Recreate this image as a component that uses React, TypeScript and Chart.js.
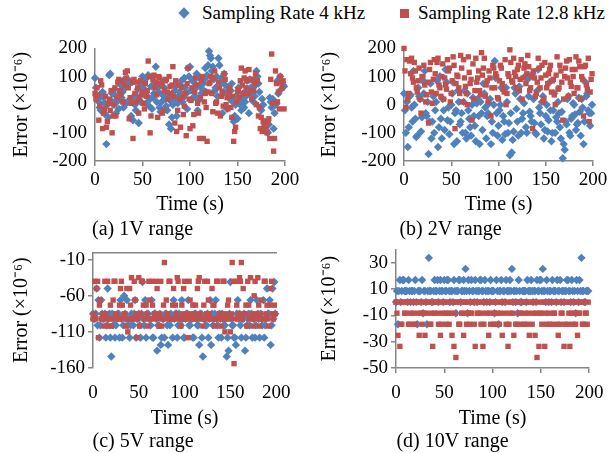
import React, { useEffect, useRef } from "react";
import { Chart, registerables } from "chart.js";

Chart.register(...registerables);

// ---------- data ----------
const TIME_EVEN_S = [
  0, 2, 4, 6, 8, 10, 12, 14, 16, 18,
  20, 22, 24, 26, 28, 30, 32, 34, 36, 38,
  40, 42, 44, 46, 48, 50, 52, 54, 56, 58,
  60, 62, 64, 66, 68, 70, 72, 74, 76, 78,
  80, 82, 84, 86, 88, 90, 92, 94, 96, 98,
  100, 102, 104, 106, 108, 110, 112, 114, 116, 118,
  120, 122, 124, 126, 128, 130, 132, 134, 136, 138,
  140, 142, 144, 146, 148, 150, 152, 154, 156, 158,
  160, 162, 164, 166, 168, 170, 172, 174, 176, 178,
  180, 182, 184, 186, 188, 190, 192, 194, 196, 198,
];
const TIME_ODD_S = [
  1, 3, 5, 7, 9, 11, 13, 15, 17, 19,
  21, 23, 25, 27, 29, 31, 33, 35, 37, 39,
  41, 43, 45, 47, 49, 51, 53, 55, 57, 59,
  61, 63, 65, 67, 69, 71, 73, 75, 77, 79,
  81, 83, 85, 87, 89, 91, 93, 95, 97, 99,
  101, 103, 105, 107, 109, 111, 113, 115, 117, 119,
  121, 123, 125, 127, 129, 131, 133, 135, 137, 139,
  141, 143, 145, 147, 149, 151, 153, 155, 157, 159,
  161, 163, 165, 167, 169, 171, 173, 175, 177, 179,
  181, 183, 185, 187, 189, 191, 193, 195, 197, 199,
];

const X_TICKS = [0, 50, 100, 150, 200];
const Y_TICKS_1V = [-200, -100, 0, 100, 200];
const Y_TICKS_2V = [-200, -100, 0, 100, 200];
const Y_TICKS_5V = [-160, -110, -60, -10];
const Y_TICKS_10V = [-50, -30, -10, 10, 30];

const SERIES_4K = "Sampling Rate 4 kHz";
const SERIES_12K = "Sampling Rate 12.8 kHz";

// (a) 1V range
const ERR_1V_4K_EVEN = [
  95, 30, 10, -20, 45, 5, -140, -45, 110, 40,
  0, -30, 15, 80, 25, -10, 60, 90, 85, -40,
  -55, 0, 30, -65, 10, 100, 55, 5, 105, 20,
  -15, 40, 135, 60, -10, 10, 85, 20, -20, -70,
  -85, 0, 50, -40, 30, 70, 10, 95, 40, 130,
  135, 20, 80, 60, -20, 95, 40, 75, 130, 105,
  190, 165, 135, 50, 100, 165, 80, -30, 110, 40,
  60, 20, 75, -60, 0, -50, 15, -20, 40, 10,
  85, -30, 60, 85, 30, 120, 75, -10, 20, -85,
  -90, -100, 25, -10, -85, 0, 85, 90, 55, 70,
];
const ERR_1V_4K_ODD = [
  60, 20, -10, 40, 25, -35, 0, 105, 15, 50,
  35, 10, -15, 70, 45, 90, 5, 75, 20, 80,
  30, -20, 55, 15, 70, 40, 90, 30, -5, 65,
  25, 80, 10, 45, -25, 35, 60, -5, 30, 15,
  -45, 20, 65, 5, 45, 85, 25, 60, -15, 100,
  50, 85, 30, 110, 15, 70, 55, 90, 45, 140,
  175, 120, 90, 60, 30, 140, 95, 45, 70, -15,
  25, 50, 10, -40, 30, 60, 0, 20, -10, 30,
  50, 90, 40, 10, 70, 100, 45, -20, 0, -60,
  -95, -70, 10, 20, -30, 5, 40, 100, 80, 65,
];
const ERR_1V_12K_EVEN = [
  40, 60, -55, 85, -85, -15, -80, 5, -20, -100,
  0, -40, 80, 50, 85, 10, 115, 120, -50, 5,
  -120, 40, 80, -30, 85, 45, -15, 30, 155, -100,
  100, 105, 80, -45, 95, 70, -20, 85, 45, 100,
  40, 135, -65, -95, 70, -80, 30, -5, -110, 130,
  -85, 60, -35, 95, 5, -120, 85, -120, 40, -130,
  75, 100, -25, 120, 10, 80, -40, 45, 110, 0,
  -15, 60, -45, -130, -80, 45, 25, 130, 40, 120,
  85, 125, 50, 90, 75, 0, -40, -85, -95, -70,
  -75, -60, -120, 180, -165, 120, 10, -15, 80, 85,
];
const ERR_1V_12K_ODD = [
  20, 35, -5, 70, -30, 30, -60, 20, 50, -40,
  60, 25, 90, 35, 10, 70, 95, 60, 25, 80,
  90, 10, 60, 20, 35, 5, 75, 50, 100, -40,
  90, 60, 35, 100, 75, -30, 50, 90, 20, 65,
  70, 30, 85, -20, 20, 60, -35, 40, 75, 20,
  15, -75, 45, 70, -30, 25, 100, 10, -10, 45,
  80, 40, 95, 5, -30, 60, 30, -5, 90, 25,
  45, -10, 30, -95, 10, 55, 85, 70, 95, 60,
  40, 90, 20, 50, 110, 85, -10, -45, -60, -80,
  -100, -50, 90, 5, -120, 75, 45, 100, 60, -15,
];

// (b) 2V range
const ERR_2V_4K_EVEN = [
  40, -100, -150, 30, -10, 120, -50, -110, 30, -95,
  85, 120, -40, -175, 75, -60, -100, 10, -150, 100,
  -120, -20, 125, -55, -105, 0, 80, -30, -130, 10,
  -60, -100, 50, -120, -20, -80, 0, -40, -130, 20,
  -140, -30, 75, -10, -40, 5, -140, -100, 155, -30,
  -75, 0, -125, -60, 60, -100, -180, -170, -95, 40,
  -60, 65, -100, -30, 100, -100, 30, -40, 110, -65,
  -105, 125, -30, 10, -120, -40, -95, 80, -130, -20,
  -100, -60, -30, -120, -190, -160, -70, 30, -110, -40,
  0, -90, -65, -25, 20, -140, 80, 40, -30, -30,
];
const ERR_2V_4K_ODD = [
  -20, 10, -80, 35, -60, 0, -115, 60, 20, -45,
  40, -30, 10, -60, -120, 30, -20, 85, -80, -50,
  20, -90, 80, -10, -60, 40, -140, -20, 50, -70,
  -30, 10, -100, 40, -50, -110, 25, -75, 5, -40,
  10, -90, 40, -120, -30, 20, -60, 0, 95, -110,
  -20, 60, -40, -105, 10, -65, -30, -125, 60, -15,
  -110, 20, -50, 5, -80, 90, -25, -60, 20, -100,
  50, -10, -70, 30, -90, 0, -55, -20, -100, 40,
  -45, 10, -80, -25, -140, -60, 20, -100, -50, 5,
  -35, -70, 25, -110, -10, -60, 30, -20, -75, 0,
];
const ERR_2V_12K_EVEN = [
  200, -10, 20, 155, 165, 80, 120, 45, 130, -30,
  100, 70, 35, -65, 150, 5, 160, 40, 165, 60,
  100, 20, 70, 160, 130, 40, 170, -85, 105, 60,
  175, 10, 95, 40, 170, 75, -55, 20, 165, 95,
  50, 185, 130, 30, 85, 120, -40, 140, 60, 100,
  20, 140, 75, 45, 0, 110, 195, 85, 165, 100,
  125, 50, 160, 95, 145, 110, 135, 60, -85, 95,
  40, 165, 60, 140, 20, 105, 75, 125, 45, 90,
  0, 170, 60, 120, -55, 100, 155, 30, 80, 125,
  40, 170, 60, 135, 100, -40, 140, 55, -60, 90,
];
const ERR_2V_12K_ODD = [
  120, 160, 40, 110, 95, 150, 60, 85, 20, 100,
  140, 10, 80, 125, 45, 90, 110, 150, 70, 30,
  145, 95, 55, 120, 10, 85, 140, 75, 100, 40,
  130, 160, 65, 0, 115, 90, 145, 50, 80, 120,
  35, 105, 165, 70, 10, 95, 60, 130, 110, 25,
  85, 130, 55, 160, 40, 100, 150, 80, 115, 60,
  140, 90, 20, 130, 75, 175, 50, 100, 120, 30,
  80, 130, 95, 10, 150, 60, 110, 140, 85, 35,
  105, 55, 140, 80, 20, 130, 95, 160, 65, 100,
  125, 60, 155, 20, 90, 135, 70, 165, 45, 110,
];

// (c) 5V range
const ERR_5V_4K_EVEN = [
  -85, -92, -50, -66, -101, -85, -92, -118, -50, -85,
  -144, -101, -118, -92, -85, -66, -118, -60, -92, -101,
  -118, -85, -101, -66, -92, -85, -118, -41, -101, -118,
  -85, -92, -66, -118, -85, -136, -101, -128, -92, -118,
  -85, -128, -101, -92, -66, -85, -118, -85, -101, -92,
  -118, -85, -66, -101, -92, -118, -85, -101, -128, -85,
  -144, -92, -101, -118, -66, -85, -92, -66, -101, -85,
  -118, -92, -101, -144, -136, -41, -101, -118, -128, -66,
  -85, -118, -92, -136, -101, -85, -66, -118, -92, -101,
  -85, -118, -92, -66, -101, -50, -85, -128, -50, -41,
];
const ERR_5V_4K_ODD = [
  -92, -85, -101, -118, -66, -92, -85, -101, -92, -118,
  -85, -92, -101, -85, -118, -92, -101, -85, -66, -92,
  -101, -92, -85, -118, -92, -101, -85, -92, -66, -85,
  -92, -101, -118, -85, -92, -101, -85, -118, -92, -85,
  -101, -92, -85, -118, -92, -85, -101, -92, -66, -118,
  -92, -85, -101, -92, -118, -85, -92, -101, -85, -118,
  -92, -101, -85, -92, -128, -101, -85, -92, -118, -92,
  -85, -101, -92, -118, -85, -92, -101, -118, -85, -92,
  -101, -92, -85, -118, -92, -101, -85, -92, -118, -66,
  -92, -85, -101, -118, -92, -85, -66, -101, -92, -85,
];
const ERR_5V_12K_EVEN = [
  -92, -40, -50, -118, -66, -92, -102, -85, -40, -92,
  -102, -66, -40, -85, -92, -50, -73, -85, -102, -110,
  -50, -35, -92, -66, -118, -35, -85, -40, -92, -73,
  -102, -66, -40, -92, -85, -50, -102, -40, -92, -14,
  -66, -85, -40, -92, -50, -73, -35, -92, -102, -85,
  -40, -92, -118, -66, -85, -92, -73, -50, -35, -92,
  -102, -40, -85, -66, -92, -50, -73, -92, -40, -85,
  -102, -40, -110, -92, -66, -110, -14, -154, -40, -92,
  -35, -14, -50, -85, -102, -73, -35, -92, -60, -85,
  -35, -102, -66, -92, -40, -73, -102, -50, -85, -73,
];
const ERR_5V_12K_ODD = [
  -85, -92, -40, -73, -92, -85, -40, -92, -102, -73,
  -92, -40, -85, -92, -73, -40, -92, -85, -50, -92,
  -73, -92, -40, -85, -92, -102, -40, -73, -92, -85,
  -40, -92, -73, -85, -40, -92, -85, -102, -73, -92,
  -85, -40, -92, -73, -92, -85, -40, -92, -73, -50,
  -92, -85, -40, -92, -73, -85, -92, -40, -85, -92,
  -73, -92, -40, -85, -92, -73, -102, -40, -92, -85,
  -92, -40, -85, -73, -92, -85, -40, -92, -73, -85,
  -40, -92, -85, -73, -40, -92, -85, -102, -40, -92,
  -73, -85, -92, -40, -85, -92, -73, -40, -92, -85,
];

// (d) 10V range
const ERR_10V_4K_EVEN = [
  0, -16.8, 16.8, 8.4, 16.8, 8.4, 0, 8.4, 8.4, 0,
  16.8, -16.8, 8.4, 0, -8.4, 8.4, -16.8, 33.6, 8.4, 0,
  16.8, 8.4, 0, 16.8, 8.4, 16.8, 8.4, 16.8, 0, 8.4,
  16.8, -8.4, 8.4, 16.8, 8.4, 16.8, 25.2, -8.4, 8.4, 16.8,
  8.4, 16.8, 0, 8.4, 16.8, 8.4, 16.8, 0, 8.4, 16.8,
  8.4, -8.4, 16.8, -16.8, 8.4, 0, 8.4, 16.8, 8.4, 16.8,
  25.2, 8.4, 0, -8.4, 8.4, 0, 8.4, 8.4, 16.8, 8.4,
  16.8, 0, 8.4, 16.8, 8.4, 16.8, 25.2, 8.4, 16.8, 0,
  8.4, 16.8, 8.4, 0, 8.4, 16.8, 8.4, 0, 8.4, 16.8,
  8.4, 16.8, 0, -8.4, 8.4, 16.8, 33.6, 8.4, 0, 8.4,
];
const ERR_10V_4K_ODD = [
  8.4, 8.4, 0, 16.8, 8.4, 8.4, 16.8, 0, 8.4, 8.4,
  0, 8.4, 8.4, 16.8, 8.4, 0, 8.4, 8.4, 0, 8.4,
  8.4, 16.8, 8.4, 8.4, 0, 8.4, 16.8, 8.4, 8.4, 0,
  8.4, 8.4, 16.8, 0, 8.4, 8.4, 8.4, 16.8, 0, 8.4,
  0, 8.4, 8.4, 16.8, 8.4, 0, 8.4, 8.4, 0, 8.4,
  8.4, 0, 8.4, 8.4, 16.8, 8.4, 0, 8.4, 8.4, 8.4,
  0, 8.4, 8.4, 16.8, 0, 8.4, 8.4, 0, 8.4, 8.4,
  8.4, 8.4, 0, 8.4, 16.8, 8.4, 8.4, 0, 8.4, 8.4,
  0, 8.4, 8.4, 16.8, 8.4, 0, 8.4, 8.4, 16.8, 8.4,
  0, 8.4, 8.4, 16.8, 0, 8.4, 8.4, 0, 8.4, 8.4,
];
const ERR_10V_12K_EVEN = [
  0, -25.2, -33.6, -16.8, 0, -8.4, 0, -16.8, 0, -8.4,
  -16.8, 0, -25.2, -8.4, 0, -25.2, -8.4, 0, -16.8, -33.6,
  -8.4, 0, -16.8, -25.2, -8.4, 0, -16.8, -8.4, 0, -25.2,
  -33.6, -42, 0, -16.8, -8.4, -25.2, 0, -8.4, -16.8, -8.4,
  0, -33.6, -8.4, 0, -16.8, -33.6, 0, -8.4, -25.2, -16.8,
  0, -8.4, -16.8, 0, -8.4, -25.2, 0, -16.8, -33.6, -8.4,
  0, -25.2, -16.8, 0, -8.4, -16.8, 0, -8.4, -16.8, -25.2,
  0, -8.4, -25.2, -42, -33.6, -8.4, 0, -33.6, -16.8, -8.4,
  0, -16.8, -8.4, 0, -25.2, -16.8, -8.4, -33.6, 0, -16.8,
  -33.6, -8.4, 0, -16.8, -25.2, -8.4, 0, -16.8, -8.4, -16.8,
];
const ERR_10V_12K_ODD = [
  -8.4, 0, -16.8, 0, -8.4, 0, -16.8, -8.4, 0, -16.8,
  0, -8.4, 0, -16.8, -8.4, 0, 0, -16.8, -8.4, 0,
  0, -8.4, 0, -16.8, 0, -8.4, 0, -16.8, -8.4, 0,
  -8.4, 0, -16.8, 0, -8.4, 0, -16.8, 0, -8.4, 0,
  -16.8, 0, -8.4, 0, -8.4, -16.8, 0, 0, -8.4, 0,
  -16.8, 0, -8.4, -16.8, 0, 0, -8.4, 0, -16.8, 0,
  -8.4, 0, -16.8, 0, -8.4, 0, -16.8, 0, -8.4, 0,
  -16.8, 0, -8.4, 0, -8.4, -16.8, 0, -8.4, 0, -16.8,
  0, -8.4, 0, -16.8, 0, -8.4, 0, -16.8, 0, -8.4,
  0, -16.8, -8.4, 0, -8.4, 0, -16.8, 0, -8.4, 0,
];

// ---------- styles ----------
const SERIF = "Liberation Serif";
const BLUE = "#4F81BD";
const RED = "#C0504D";
const AXIS = "#868686";

type PanelCfg = {
  caption: string;
  blueEven: number[];
  blueOdd: number[];
  redEven: number[];
  redOdd: number[];
  yMin: number;
  yMax: number;
  yTicks: number[];
  left: number;
  top: number;
  width: number;
  height: number;
  padTop: number;
  padRight: number;
  yW: number;
  xH: number;
  xBorder: boolean;
  xTickMarks: boolean;
  xTickPad: number;
  xTitlePadB: number;
  capPadT: number;
  capPadB: number;
  yTickMarks: boolean;
  topLine: boolean;
};

const PANELS: PanelCfg[] = [
  {
    caption: "(a) 1V range",
    blueEven: ERR_1V_4K_EVEN, blueOdd: ERR_1V_4K_ODD,
    redEven: ERR_1V_12K_EVEN, redOdd: ERR_1V_12K_ODD,
    yMin: -200, yMax: 200, yTicks: Y_TICKS_1V,
    left: 0, top: 29, width: 303, height: 216, padTop: 12, padRight: 18,
    yW: 95, xH: 56, xBorder: true, xTickMarks: true, xTickPad: 2.5, xTitlePadB: 0,
    capPadT: 3, capPadB: 5, yTickMarks: false, topLine: false,
  },
  {
    caption: "(b) 2V range",
    blueEven: ERR_2V_4K_EVEN, blueOdd: ERR_2V_4K_ODD,
    redEven: ERR_2V_12K_EVEN, redOdd: ERR_2V_12K_ODD,
    yMin: -200, yMax: 200, yTicks: Y_TICKS_2V,
    left: 308, top: 29, width: 303, height: 216, padTop: 12, padRight: 18,
    yW: 96, xH: 56, xBorder: true, xTickMarks: true, xTickPad: 2.5, xTitlePadB: 0,
    capPadT: 3, capPadB: 5, yTickMarks: false, topLine: false,
  },
  {
    caption: "(c) 5V range",
    blueEven: ERR_5V_4K_EVEN, blueOdd: ERR_5V_4K_ODD,
    redEven: ERR_5V_12K_EVEN, redOdd: ERR_5V_12K_ODD,
    yMin: -160, yMax: 0, yTicks: Y_TICKS_5V,
    left: 0, top: 238, width: 304, height: 215, padTop: 12, padRight: 18,
    yW: 93, xH: 63, xBorder: false, xTickMarks: false, xTickPad: 13.6, xTitlePadB: 0.5,
    capPadT: 1, capPadB: 1, yTickMarks: true, topLine: true,
  },
  {
    caption: "(d) 10V range",
    blueEven: ERR_10V_4K_EVEN, blueOdd: ERR_10V_4K_ODD,
    redEven: ERR_10V_12K_EVEN, redOdd: ERR_10V_12K_ODD,
    yMin: -50, yMax: 40, yTicks: Y_TICKS_10V,
    left: 308, top: 235, width: 304, height: 218, padTop: 11.5, padRight: 15,
    yW: 88, xH: 63, xBorder: true, xTickMarks: true, xTickPad: 8.6, xTitlePadB: 0.5,
    capPadT: 1, capPadB: 1, yTickMarks: true, topLine: false,
  },
];

function Panel({ p }: { p: PanelCfg }) {
  const ref = useRef<HTMLCanvasElement | null>(null);
  useEffect(() => {
    if (!ref.current) return;
    const tickFont = () => ({ family: SERIF, size: 19, weight: "normal" as const });
    const titleFont = () => ({ family: SERIF, size: 20, weight: "normal" as const });
    const toPts = (even: number[], odd: number[]) => [
      ...TIME_EVEN_S.map((t, i) => ({ x: t, y: even[i] })),
      ...TIME_ODD_S.map((t, i) => ({ x: t, y: odd[i] })),
    ];
    const scales: any = {
      x: {
        type: "linear",
        position: "bottom",
        min: 0,
        max: 200,
        afterBuildTicks: (s: any) => {
          s.ticks = X_TICKS.map((v) => ({ value: v }));
        },
        afterFit: (s: any) => {
          s.height = p.xH;
        },
        border: { display: p.xBorder, color: AXIS, width: 1.5 },
        grid: {
          drawOnChartArea: false,
          drawTicks: p.xTickMarks,
          tickLength: 5,
          color: AXIS,
          lineWidth: 1.5,
        },
        ticks: { color: "#000", font: tickFont(), padding: p.xTickPad, maxRotation: 0, autoSkip: false },
        title: {
          display: true,
          text: "Time (s)",
          color: "#000",
          font: titleFont(),
          padding: { top: 0, bottom: p.xTitlePadB },
        },
      },
      y: {
        type: "linear",
        min: p.yMin,
        max: p.yMax,
        afterBuildTicks: (s: any) => {
          s.ticks = p.yTicks.map((v) => ({ value: v }));
        },
        afterFit: (s: any) => {
          s.width = p.yW;
        },
        border: { display: true, color: AXIS, width: 1.5 },
        grid: {
          drawOnChartArea: false,
          drawTicks: p.yTickMarks,
          tickLength: 5,
          color: AXIS,
          lineWidth: 1.5,
        },
        ticks: { color: "#000", font: tickFont(), padding: p.yTickMarks ? 3 : 8, autoSkip: false },
        title: {
          display: true,
          text: "Error (×10⁻⁶)",
          color: "#000",
          font: titleFont(),
          padding: { top: 10, bottom: 0 },
        },
      },
    };
    if (p.topLine) {
      scales.xTop = {
        type: "linear",
        position: "top",
        min: 0,
        max: 200,
        afterFit: (s: any) => {
          s.height = 0;
        },
        border: { display: true, color: AXIS, width: 1.5 },
        grid: { drawOnChartArea: false, drawTicks: false },
        ticks: { display: false },
      };
    }
    const chart = new Chart(ref.current, {
      type: "scatter",
      data: {
        datasets: [
          {
            label: SERIES_12K,
            data: toPts(p.redEven, p.redOdd),
            pointStyle: "rect",
            pointRadius: 3.8,
            backgroundColor: RED,
            borderColor: RED,
            borderWidth: 0,
            clip: false,
            order: 1,
          } as any,
          {
            label: SERIES_4K,
            data: toPts(p.blueEven, p.blueOdd),
            pointStyle: "rectRot",
            pointRadius: 4.2,
            backgroundColor: BLUE,
            borderColor: BLUE,
            borderWidth: 0,
            clip: false,
            order: 2,
          } as any,
        ],
      },
      options: {
        responsive: false,
        animation: false,
        devicePixelRatio: 1,
        events: [],
        layout: { padding: { top: p.padTop, right: p.padRight, left: 0, bottom: 0 } },
        scales,
        plugins: {
          legend: { display: false },
          tooltip: { enabled: false },
          title: {
            display: true,
            position: "bottom",
            text: p.caption,
            color: "#000",
            font: { family: SERIF, size: 20, lineHeight: 1.0, weight: "normal" },
            padding: { top: p.capPadT, bottom: p.capPadB },
          },
        },
      },
    });
    return () => chart.destroy();
  }, [p]);
  return (
    <canvas
      ref={ref}
      width={p.width}
      height={p.height}
      style={{ position: "absolute", left: p.left, top: p.top, width: p.width, height: p.height }}
    />
  );
}

export default function App() {
  const legendText: React.CSSProperties = {
    position: "absolute",
    top: 2,
    fontFamily: SERIF,
    fontSize: 19,
    lineHeight: "22px",
    color: "#000",
    whiteSpace: "nowrap",
  };
  return (
    <div
      style={{
        position: "fixed",
        left: 0,
        top: 0,
        width: 611,
        height: 453,
        overflow: "hidden",
        background: "#fff",
      }}
    >
      <div
        style={{
          position: "absolute",
          left: 180,
          top: 9,
          width: 8,
          height: 8,
          background: BLUE,
          transform: "rotate(45deg)",
        }}
      />
      <div style={{ ...legendText, left: 202 }}>{SERIES_4K}</div>
      <div
        style={{
          position: "absolute",
          left: 400,
          top: 8.5,
          width: 9,
          height: 9,
          background: RED,
        }}
      />
      <div style={{ ...legendText, left: 418 }}>{SERIES_12K}</div>
      {PANELS.map((p) => (
        <Panel key={p.caption} p={p} />
      ))}
    </div>
  );
}
